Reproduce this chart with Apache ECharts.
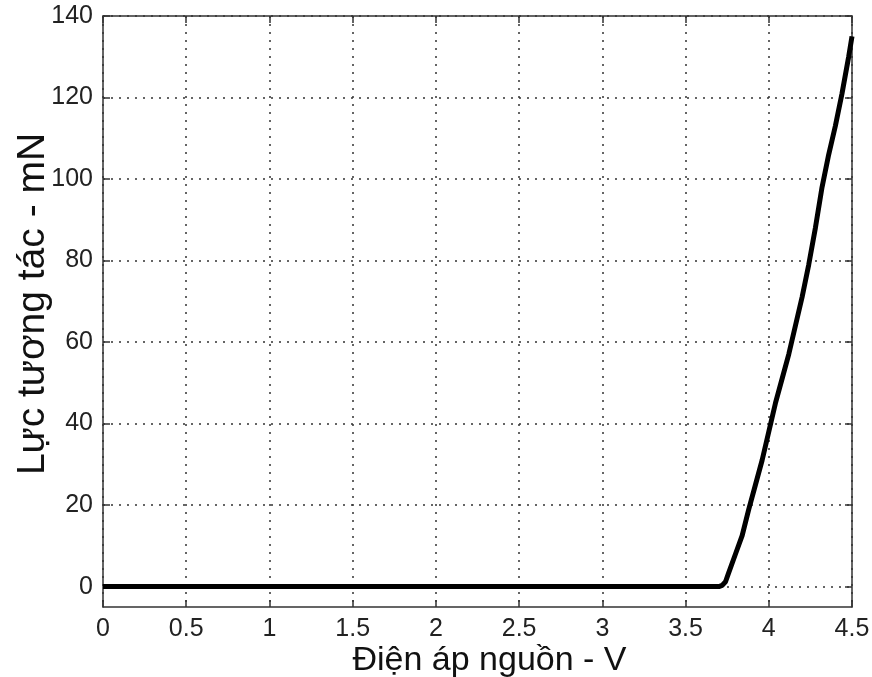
<!DOCTYPE html>
<html>
<head>
<meta charset="utf-8">
<script src="https://cdn.jsdelivr.net/npm/echarts@6/dist/echarts.min.js"></script>
<style>
html,body{margin:0;padding:0;background:#fff;}
#chart{width:872px;height:677px;}
</style>
</head>
<body>
<div id="chart"></div>
<script>
var voltage = [0, 0.5, 1, 1.5, 2, 2.5, 3, 3.5, 3.7, 3.72, 3.74, 3.76, 3.8, 3.84, 3.88, 3.92, 3.96, 4.0, 4.04, 4.08, 4.12, 4.16, 4.2, 4.24, 4.28, 4.32, 4.36, 4.4, 4.44, 4.48, 4.5];
var force   = [0, 0, 0, 0, 0, 0, 0, 0, 0, 0.3, 1.2, 3.5, 8, 12.5, 19, 25, 31, 38, 45, 51, 57, 64, 71, 79, 88, 98, 106, 113, 121, 130, 135];
var yTicks = [0, 20, 40, 60, 80, 100, 120, 140];
var xLabel = 'Điện áp nguồn - V';
var yLabel = 'Lực tương tác - mN';

var pts = voltage.map(function (v, i) { return [v, force[i]]; });
var font = '"Liberation Sans", Arial, sans-serif';
var axisCol = '#333';

var chart = echarts.init(document.getElementById('chart'), null, {renderer: 'canvas'});
function xAx(pos, show) {
  return {
    type: 'value', position: pos, min: 0, max: 4.5, interval: 0.5,
    name: show ? xLabel : '', nameLocation: 'middle', nameGap: 37, nameMoveOverlap: false,
    nameTextStyle: {fontFamily: font, fontSize: 34, color: '#111', padding: [0, 0, 0, 24]},
    axisLine: {show: true, onZero: false, lineStyle: {color: axisCol, width: 1.5}},
    axisTick: {show: true, inside: true, length: 7, lineStyle: {color: axisCol, width: 1.5}},
    axisLabel: {show: show, fontFamily: font, fontSize: 25, color: '#222', margin: 10,
      formatter: function (v) { return String(+v.toFixed(1)); }},
    splitLine: {show: show, lineStyle: {type: [2, 6], color: '#333', width: 1.5}}
  };
}
function yAx(pos, show) {
  return {
    type: 'value', position: pos, min: -5, max: 140,
    name: show ? yLabel : '', nameLocation: 'middle', nameGap: 50, nameMoveOverlap: false,
    nameTextStyle: {fontFamily: font, fontSize: 39, color: '#111', padding: [0, 0, 0, 15]},
    axisLine: {show: true, onZero: false, lineStyle: {color: axisCol, width: 1.5}},
    axisTick: {show: true, inside: true, length: 7, customValues: yTicks, lineStyle: {color: axisCol, width: 1.5}},
    axisLabel: {show: show, fontFamily: font, fontSize: 25, color: '#222', margin: 10, customValues: yTicks},
    splitLine: {show: show, lineStyle: {type: [2, 6], color: '#333', width: 1.5}}
  };
}
chart.setOption({
  animation: false,
  backgroundColor: '#fff',
  grid: {left: 103, right: 20, top: 16, bottom: 70, containLabel: false, outerBoundsMode: 'none'},
  xAxis: [xAx('bottom', true), xAx('top', false)],
  yAxis: [yAx('left', true), yAx('right', false)],
  series: [{
    type: 'line', xAxisIndex: 0, yAxisIndex: 0, data: pts,
    showSymbol: false, symbol: 'none',
    lineStyle: {color: '#000', width: 5}
  }]
});
</script>
</body>
</html>
